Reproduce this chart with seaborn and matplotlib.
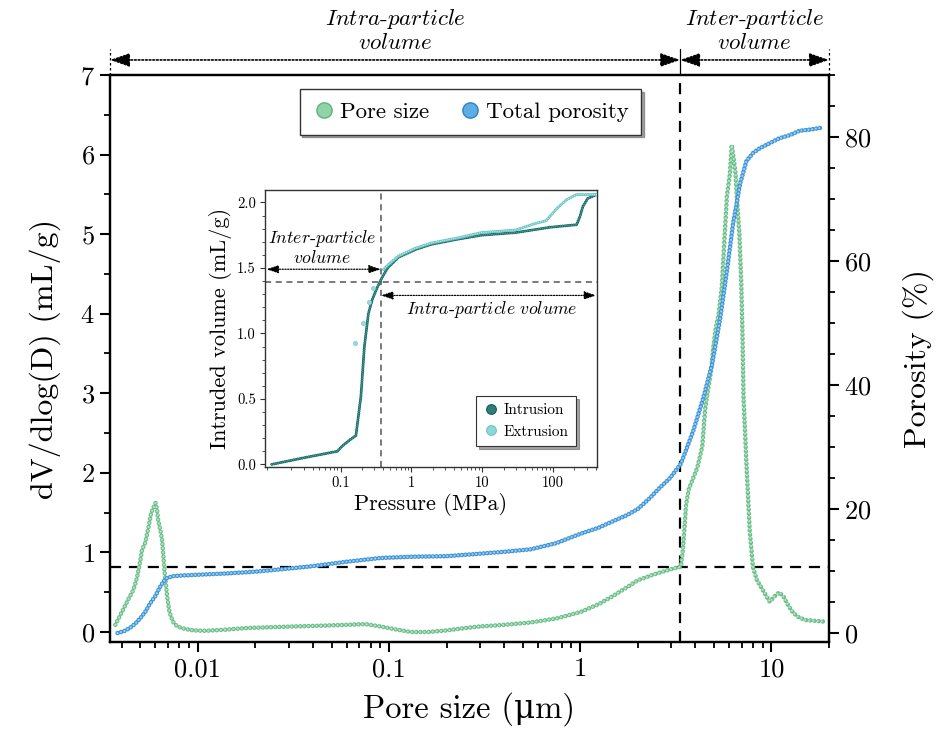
import numpy as np
import pandas as pd
import seaborn as sns
import matplotlib.pyplot as plt
from matplotlib import ticker
from matplotlib.lines import Line2D

# ---- pore size distribution (dV/dlogD, mL/g) ----
pore_um = [0.0037, 0.0040, 0.0043, 0.0046, 0.0048, 0.0050, 0.0051, 0.0053, 0.0055,
           0.0057, 0.0059, 0.0060, 0.0061, 0.0062, 0.0064, 0.0065, 0.0066, 0.0067,
           0.0069, 0.0071, 0.0074, 0.0078, 0.0085, 0.0095, 0.011, 0.014, 0.018,
           0.024, 0.032, 0.045, 0.060, 0.075, 0.090, 0.11, 0.13, 0.16, 0.20, 0.25,
           0.30, 0.40, 0.55, 0.75, 1.0, 1.25, 1.5, 1.75, 2.0, 2.4, 2.8, 3.1, 3.36,
           3.45, 3.52, 3.58, 3.7, 3.85, 4.1, 4.35, 4.5, 4.7, 4.85, 4.95, 5.1, 5.3,
           5.5, 5.7, 5.85, 6.07, 6.2, 6.35, 6.5, 6.6, 6.8, 6.95, 7.05, 7.15, 7.4,
           7.7, 8.0, 8.4, 9.0, 9.8, 10.4, 11.0, 11.6, 12.2, 13.0, 14.0, 15.2, 17.0,
           19.2]
pore_dv = [0.09, 0.25, 0.40, 0.53, 0.68, 0.90, 1.03, 1.12, 1.30,
           1.50, 1.58, 1.62, 1.55, 1.40, 1.25, 1.15, 0.95, 0.75,
           0.45, 0.25, 0.13, 0.07, 0.04, 0.02, 0.015, 0.03, 0.05,
           0.06, 0.07, 0.08, 0.09, 0.10, 0.07, 0.03, 0.0, 0.0, 0.02, 0.05,
           0.07, 0.09, 0.12, 0.17, 0.25, 0.35, 0.46, 0.56, 0.65, 0.72, 0.77, 0.80, 0.82,
           1.05, 1.35, 1.60, 1.80, 1.90, 2.07, 2.33, 2.80, 3.10, 3.30, 3.55, 3.80, 4.00,
           4.33, 5.00, 5.47, 5.77, 6.12, 5.95, 5.75, 5.45, 5.00, 4.40, 3.80, 2.95, 2.12,
           1.28, 0.82, 0.65, 0.53, 0.38, 0.45, 0.50, 0.44, 0.34, 0.24, 0.18, 0.15, 0.14,
           0.13]

# ---- cumulative porosity (%) ----
poro_um = [0.0038, 0.0041, 0.0044, 0.0047, 0.0050, 0.0053, 0.0056, 0.0060, 0.0063,
           0.0066, 0.0069, 0.0075, 0.0085, 0.010, 0.014, 0.020, 0.030, 0.040, 0.060,
           0.090, 0.13, 0.20, 0.30, 0.40, 0.55, 0.75, 1.0, 1.25, 1.5, 1.75, 2.0, 2.3,
           2.6, 2.95, 3.36, 3.9, 4.4, 4.9, 5.4, 5.85, 6.3, 6.85, 7.4, 8.0, 8.7, 9.8,
           11.0, 12.5, 14.0, 16.0, 18.3]
porosity_pct = [0.0, 0.3, 0.8, 1.5, 2.4, 3.4, 4.7, 6.0, 7.3,
                8.3, 8.9, 9.2, 9.3, 9.4, 9.6, 9.9, 10.4, 10.8, 11.5,
                12.1, 12.3, 12.4, 12.8, 13.1, 13.5, 14.5, 16.0, 17.0, 18.1, 19.0, 20.0, 21.7,
                23.4, 25.0, 27.3, 32.6, 37.9, 43.4, 50.8, 58.4, 66.0, 72.4, 76.1, 77.4, 78.2, 79.0,
                79.8, 80.3, 81.0, 81.2, 81.5]

# ---- mercury intrusion / extrusion (inset) ----
intr_mpa = [0.0106, 0.030, 0.0897, 0.105, 0.137, 0.164, 0.193, 0.216, 0.246,
            0.28, 0.316, 0.37, 0.46, 0.65, 1.13, 1.9, 4.6, 9.8, 30, 52, 90, 216,
            240, 265, 310, 415]
intr_vol = [0.0, 0.05, 0.10, 0.14, 0.19, 0.22, 0.52, 0.90, 1.15,
            1.26, 1.33, 1.41, 1.50, 1.58, 1.64, 1.68, 1.72, 1.75, 1.77, 1.79, 1.81, 1.83,
            1.89, 1.97, 2.03, 2.06]
extr_mpa = [415, 216, 155, 112, 80, 57, 30, 9.8, 4.6, 1.9, 1.13, 0.65, 0.46, 0.39]
extr_vol = [2.06, 2.06, 2.02, 1.95, 1.86, 1.84, 1.79, 1.77, 1.73, 1.69, 1.65, 1.59, 1.52, 1.48]
extr_tail_mpa = [0.29, 0.25, 0.205, 0.157]
extr_tail_vol = [1.35, 1.24, 1.08, 0.93]

pressure_ticks = [0.1, 1, 10, 100]

boundary_um = 3.33
boundary_dv = 0.82
boundary_mpa = 0.37
boundary_vol = 1.39

GREEN_EDGE, GREEN_FACE = "#6cbf8a", "#b9e4c6"
BLUE_EDGE, BLUE_FACE = "#3f95d6", "#9fd0f1"
TEAL_DARK = "#1f6e6b"

sns.set_theme(style="ticks")
plt.rcParams.update({
    "font.family": ["cmr10", "DejaVu Serif"],
    "mathtext.fontset": "cm",
    "axes.formatter.use_mathtext": True,
    "axes.unicode_minus": False,
    "axes.edgecolor": "black",
    "xtick.color": "black",
    "ytick.color": "black",
    "text.color": "black",
    "axes.labelcolor": "black",
})


def beads(ax, x, y, edge, face, width, period, z=3):
    """Chain of ringed dots following the data path."""
    df = pd.DataFrame({"x": x, "y": y})
    for color, lw in ((edge, width), (face, width * 0.5)):
        sns.lineplot(data=df, x="x", y="y", ax=ax, color=color, lw=lw, sort=False,
                     estimator=None, legend=False, zorder=z)
        ln = ax.lines[-1]
        ln.set_linestyle((0, (0.001, period / lw)))
        ln.set_dash_capstyle("round")


fig = plt.figure(figsize=(9.42, 7.33), dpi=100)
ax = fig.add_axes([0.1168, 0.1241, 0.7632, 0.7736])
ax.set_xscale("log")
ax.set_xlim(0.00347, 20)
ax.set_ylim(-0.126, 7)

ax2 = ax.twinx()
ax2.set_ylim(-1.45, 90)

beads(ax, pore_um, pore_dv, GREEN_EDGE, GREEN_FACE, 3.3, 3.0)
beads(ax2, poro_um, porosity_pct, BLUE_EDGE, BLUE_FACE, 3.3, 2.6)

ax.axhline(boundary_dv, color="black", lw=1.6, ls=(0, (5, 3.5)), zorder=2)
ax.axvline(boundary_um, color="black", lw=1.6, ls=(0, (5, 3.5)), zorder=2)

# axes styling
for a in (ax, ax2):
    for s in a.spines.values():
        s.set_linewidth(1.6)
        s.set_color("black")
ax.xaxis.set_major_locator(ticker.LogLocator(base=10, numticks=10))
ax.xaxis.set_minor_locator(ticker.LogLocator(base=10, subs=np.arange(2, 10), numticks=20))
ax.xaxis.set_major_formatter(ticker.FuncFormatter(lambda v, p: f"{v:g}"))
ax.xaxis.set_minor_formatter(ticker.NullFormatter())
ax.yaxis.set_major_locator(ticker.MultipleLocator(1))
ax.yaxis.set_minor_locator(ticker.MultipleLocator(0.5))
ax2.yaxis.set_major_locator(ticker.MultipleLocator(20))
ax2.yaxis.set_minor_locator(ticker.MultipleLocator(5))
for a in (ax, ax2):
    a.tick_params(which="major", length=7, width=1.5, direction="out", labelsize=19, pad=4)
    a.tick_params(which="minor", length=4.5, width=1.3, direction="out")
ax.tick_params(axis="x", which="both", top=False)
ax.tick_params(axis="y", which="both", right=False)
ax2.tick_params(axis="y", which="both", left=False)

ax.set_xlabel("Pore size (\u03bcm)", fontsize=23.5, labelpad=8)
ax.set_ylabel("dV/dlog(D) (mL/g)", fontsize=23, labelpad=14)
ax2.set_ylabel("Porosity (%)", fontsize=23, labelpad=22)

# region arrows above the plot
ya = 1.0265
arrow_kw = dict(arrowstyle="<|-|>,head_length=1.0,head_width=0.35", color="black",
                lw=1.2, ls=(0, (1, 1.2)), shrinkA=0, shrinkB=0)
ax.annotate("", xy=(boundary_um, ya), xytext=(0.00347, ya),
            xycoords=("data", "axes fraction"), textcoords=("data", "axes fraction"),
            arrowprops=arrow_kw, annotation_clip=False)
ax.annotate("", xy=(20, ya), xytext=(boundary_um, ya),
            xycoords=("data", "axes fraction"), textcoords=("data", "axes fraction"),
            arrowprops=arrow_kw, annotation_clip=False)
for xv, ls in ((0.00347, (0, (2, 2))), (20, (0, (2, 2))), (boundary_um, "-")):
    ax.plot([xv, xv], [1.0, 1.045], transform=ax.get_xaxis_transform(), color="black",
            lw=0.9, ls=ls, clip_on=False)

ax.text(0.1075, 1.079, r"$\mathit{Intra}$-$\mathit{particle}$" + "\n" + r"$\mathit{volume}$",
        transform=ax.get_xaxis_transform(), ha="center", va="center", fontsize=16.5,
        linespacing=1.1)
ax.text(8.16, 1.079, r"$\mathit{Inter}$-$\mathit{particle}$" + "\n" + r"$\mathit{volume}$",
        transform=ax.get_xaxis_transform(), ha="center", va="center", fontsize=16.5,
        linespacing=1.1)

# main legend
handles = [
    Line2D([], [], ls="", marker="o", markersize=11, markerfacecolor="#8fd3a6",
           markeredgecolor="#5fb27e", markeredgewidth=1.0),
    Line2D([], [], ls="", marker="o", markersize=11, markerfacecolor="#5eaee6",
           markeredgecolor="#2f80c2", markeredgewidth=1.0),
]
leg = fig.legend(handles, ["Pore size", "Total porosity"], loc="upper left",
                 bbox_to_anchor=(0.318, 0.878), ncol=2, fontsize=16.5, frameon=True,
                 fancybox=False, shadow=True, framealpha=1, edgecolor="#333333",
                 handletextpad=0.2, columnspacing=1.3, handlelength=1.0,
                 borderpad=0.55, borderaxespad=0)
leg.get_frame().set_linewidth(1.0)

# ---- inset: intrusion / extrusion curve ----
axin = fig.add_axes([0.2813, 0.3629, 0.3525, 0.3779])
axin.set_zorder(5)
axin.set_facecolor("white")
axin.set_xscale("log")
axin.set_xlim(0.0085, 420)
axin.set_ylim(-0.02, 2.095)

beads(axin, intr_mpa, intr_vol, TEAL_DARK, "#4f9c98", 2.2, 1.6)
beads(axin, extr_mpa, extr_vol, "#6cc4c6", "#b4e6e6", 2.2, 1.6)
tail = pd.DataFrame({"p": extr_tail_mpa, "v": extr_tail_vol})
sns.scatterplot(data=tail, x="p", y="v", ax=axin, s=9, color="#9adada",
                edgecolor="#6cc4c6", linewidth=0.4, legend=False, zorder=3)

axin.axhline(boundary_vol, color="#555555", lw=1.1, ls=(0, (4, 3)), zorder=2)
axin.axvline(boundary_mpa, color="#555555", lw=1.1, ls=(0, (4, 3)), zorder=2)

in_arrow = dict(arrowstyle="<|-|>,head_length=0.6,head_width=0.2", color="black",
                lw=0.9, ls=(0, (1, 1.2)), shrinkA=0, shrinkB=0)
axin.annotate("", xy=(boundary_mpa, 1.49), xytext=(0.0089, 1.49), arrowprops=in_arrow)
axin.annotate("", xy=(410, 1.29), xytext=(boundary_mpa, 1.29), arrowprops=in_arrow)
axin.text(0.055, 1.66, r"$\mathit{Inter}$-$\mathit{particle}$" + "\n" + r"$\mathit{volume}$",
          ha="center", va="center", fontsize=12.8, linespacing=1.0)
axin.text(13.8, 1.18, r"$\mathit{Intra}$-$\mathit{particle\ volume}$",
          ha="center", va="center", fontsize=12.8)

for s in axin.spines.values():
    s.set_linewidth(1.0)
    s.set_color("#333333")
axin.xaxis.set_major_locator(ticker.FixedLocator(pressure_ticks))
axin.xaxis.set_minor_locator(ticker.LogLocator(base=10, subs=np.arange(2, 10), numticks=30))
axin.xaxis.set_major_formatter(ticker.FuncFormatter(lambda v, p: f"{v:g}"))
axin.xaxis.set_minor_formatter(ticker.NullFormatter())
axin.yaxis.set_major_locator(ticker.MultipleLocator(0.5))
axin.yaxis.set_minor_locator(ticker.MultipleLocator(0.1))
axin.yaxis.set_major_formatter(ticker.FormatStrFormatter("%.1f"))
axin.tick_params(which="major", length=3.5, width=0.8, direction="out", labelsize=10.5,
                 pad=3, color="#333333")
axin.tick_params(which="minor", length=2, width=0.6, direction="out", color="#333333")
axin.set_xlabel("Pressure (MPa)", fontsize=16, labelpad=2)
axin.set_ylabel("Intruded volume (mL/g)", fontsize=16, labelpad=4)

in_handles = [
    Line2D([], [], ls="", marker="o", markersize=7, markerfacecolor="#2c7f7b",
           markeredgecolor="#185956", markeredgewidth=0.8),
    Line2D([], [], ls="", marker="o", markersize=7, markerfacecolor="#8fd6d7",
           markeredgecolor="#6cc4c6", markeredgewidth=0.8),
]
leg2 = axin.legend(in_handles, ["Intrusion", "Extrusion"], loc="lower right",
                   bbox_to_anchor=(0.937, 0.075), fontsize=11, frameon=True,
                   fancybox=False, shadow=True, framealpha=1, edgecolor="#333333",
                   handletextpad=0.3, handlelength=1.0, borderpad=0.5, labelspacing=0.5,
                   borderaxespad=0)
leg2.get_frame().set_linewidth(0.8)

fig.savefig("out.png", dpi=100)
